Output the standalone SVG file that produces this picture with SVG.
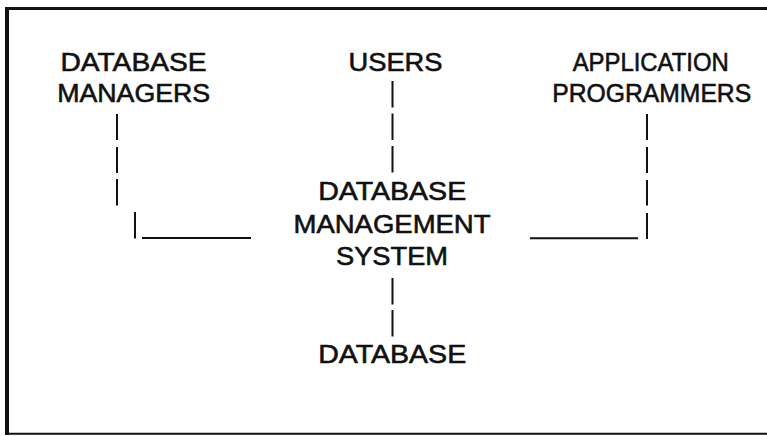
<svg xmlns="http://www.w3.org/2000/svg" width="767" height="436" viewBox="0 0 767 436">
  <style>
    .label { font-family: "Liberation Sans", Arial, Helvetica, sans-serif; font-size: 26px; fill: #111; stroke: #111; stroke-width: 0.6px; text-anchor: middle; }
    .link { stroke: #111; stroke-width: 2; fill: none; }
    .frame { stroke: #111; fill: none; }
  </style>
  <rect x="0" y="0" width="767" height="436" fill="#fff"/>

  <!-- outer frame (open on the right) -->
  <g id="frame">
    <line class="frame" x1="7" y1="7" x2="7" y2="435" stroke-width="4"/>
    <line class="frame" x1="5" y1="8.5" x2="767" y2="8.5" stroke-width="3"/>
    <line class="frame" x1="5" y1="433.8" x2="767" y2="433.8" stroke-width="2"/>
  </g>

  <!-- connectors, typed as broken bars -->
  <g id="connectors">
    <!-- users to DBMS -->
    <path class="link" d="M392.5 81V107.5M392.5 113.5V140M392.5 146V172.5"/>
    <!-- DBMS to database -->
    <path class="link" d="M392.5 278V304.5M392.5 310V336.5"/>
    <!-- database managers to DBMS -->
    <path class="link" d="M117 114V140M117 147V173M117 179V205.5M135 212V238.5M142 238H251"/>
    <!-- application programmers to DBMS -->
    <path class="link" d="M647 114V140M647 147V173M647 180V205.5M647 213V239M530 238.3H638"/>
  </g>

  <g id="database-managers">
    <text class="label" x="133.5" y="70.5" textLength="146" lengthAdjust="spacingAndGlyphs">DATABASE</text>
    <text class="label" x="133.7" y="101.5" textLength="153" lengthAdjust="spacingAndGlyphs">MANAGERS</text>
  </g>

  <g id="users">
    <text class="label" x="395.5" y="70.5" textLength="94" lengthAdjust="spacingAndGlyphs">USERS</text>
  </g>

  <g id="application-programmers">
    <text class="label" x="650.7" y="70.5" textLength="156" lengthAdjust="spacingAndGlyphs">APPLICATION</text>
    <text class="label" x="651.7" y="101.5" textLength="199" lengthAdjust="spacingAndGlyphs">PROGRAMMERS</text>
  </g>

  <g id="dbms">
    <text class="label" x="392.2" y="200" textLength="148" lengthAdjust="spacingAndGlyphs">DATABASE</text>
    <text class="label" x="392" y="232.5" textLength="197" lengthAdjust="spacingAndGlyphs">MANAGEMENT</text>
    <text class="label" x="392" y="265" textLength="112" lengthAdjust="spacingAndGlyphs">SYSTEM</text>
  </g>

  <g id="database">
    <text class="label" x="392.2" y="363.3" textLength="148" lengthAdjust="spacingAndGlyphs">DATABASE</text>
  </g>
</svg>
